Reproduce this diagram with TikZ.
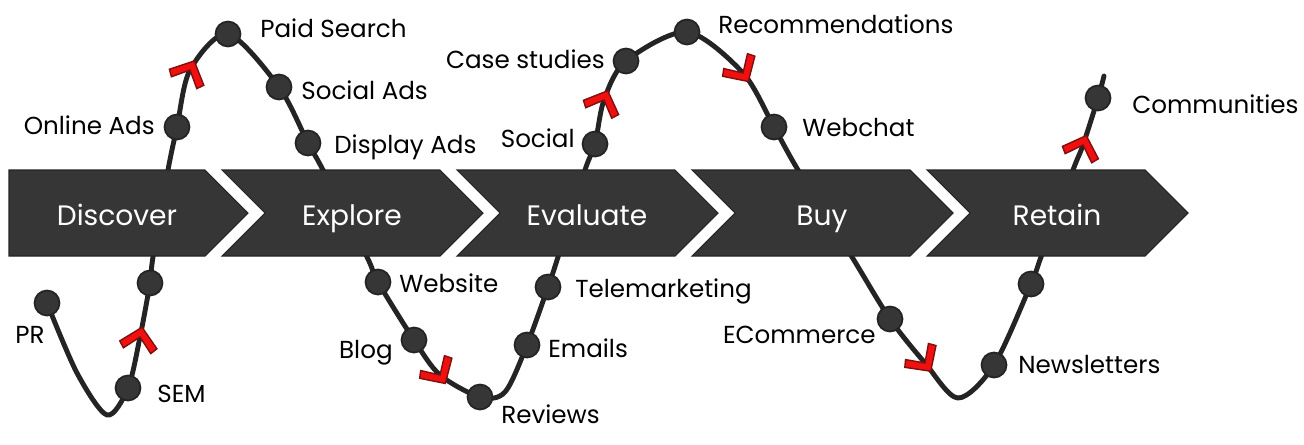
\documentclass[tikz,border=0pt]{standalone}
\usepackage{fontspec}
\setmainfont{Poppins}
\usetikzlibrary{backgrounds}
\definecolor{chevgray}{HTML}{363636}
\definecolor{wavegray}{HTML}{242424}
\definecolor{markred}{HTML}{F01010}
\definecolor{markedge}{HTML}{801010}
\tikzset{
    touchdot/.style={circle,fill=chevgray,draw=wavegray,line width=1pt,minimum size=0.5cm,inner sep=0pt},
    touchlbl/.style={inner sep=0pt,font=\fontsize{14}{16}\selectfont},
    stagetxt/.style={inner sep=0pt,anchor=base,text=white,font=\fontsize{16}{18}\selectfont},
    waveline/.style={draw=wavegray,line width=2.8pt,line cap=round,line join=round},
    pics/redmark/.style={code={\draw[markedge,fill=markred,line width=0.8pt,line join=miter] (10,0) -- (-8,19) -- (-14,14) -- (0,0) -- (-14,-14) -- (-8,-19) -- cycle;}}
}
\begin{document}
\begin{tikzpicture}[x=0.02cm,y=-0.02cm]
    \useasboundingbox (0,0) rectangle (1304,444);
    \node[touchdot] (pr) at (47,303) {};
    \node[touchdot] (sem) at (128,388) {};
    \node[touchdot] (dsc) at (150,283) {};
    \node[touchdot] (onl) at (177,127) {};
    \node[touchdot] (paid) at (228,34) {};
    \node[touchdot] (soca) at (279,87) {};
    \node[touchdot] (disp) at (308,143) {};
    \node[touchdot] (web) at (378,282) {};
    \node[touchdot] (blog) at (414,340) {};
    \node[touchdot] (rev) at (480,397) {};
    \node[touchdot] (ema) at (527,345) {};
    \node[touchdot] (tele) at (548,287) {};
    \node[touchdot] (soc) at (595,144) {};
    \node[touchdot] (cases) at (626,61) {};
    \node[touchdot] (reco) at (687,32) {};
    \node[touchdot] (chat) at (774,127) {};
    \node[touchdot] (ecom) at (890,319) {};
    \node[touchdot] (news) at (994,365) {};
    \node[touchdot] (ret) at (1031,284) {};
    \node[touchdot] (comm) at (1098,98) {};
    \node[touchlbl,anchor=base west] (prlbl) at (15,343) {PR};
    \node[touchlbl,anchor=base west] (semlbl) at (157,402) {SEM};
    \node[touchlbl,anchor=base east] (onllbl) at (155,134) {Online Ads};
    \node[touchlbl,anchor=base west] (paidlbl) at (260,37) {Paid Search};
    \node[touchlbl,anchor=base west] (socalbl) at (301,99) {Social Ads};
    \node[touchlbl,anchor=base west] (displbl) at (334,153) {Display Ads};
    \node[touchlbl,anchor=base west] (weblbl) at (399,292) {Website};
    \node[touchlbl,anchor=base east] (bloglbl) at (393,358) {Blog};
    \node[touchlbl,anchor=base west] (revlbl) at (501,423) {Reviews};
    \node[touchlbl,anchor=base west] (emalbl) at (548,357) {Emails};
    \node[touchlbl,anchor=base west] (telelbl) at (575,297) {Telemarketing};
    \node[touchlbl,anchor=base east] (soclbl) at (575,147) {Social};
    \node[touchlbl,anchor=base east] (caseslbl) at (605,68) {Case studies};
    \node[touchlbl,anchor=base west] (recolbl) at (718,33) {Recommendations};
    \node[touchlbl,anchor=base west] (chatlbl) at (802,136) {Webchat};
    \node[touchlbl,anchor=base east] (ecomlbl) at (876,343) {ECommerce};
    \node[touchlbl,anchor=base west] (newslbl) at (1018,373) {Newsletters};
    \node[touchlbl,anchor=base west] (commlbl) at (1132,113) {Communities};
    \coordinate (a1) at (77,373);
    \coordinate (b1) at (107,415);
    \coordinate (m1) at (140,337);
    \coordinate (c1) at (153,257);
    \coordinate (c2) at (168,170);
    \coordinate (m2) at (190,70);
    \coordinate (c3) at (323,170);
    \coordinate (c4) at (367,257);
    \coordinate (m3) at (440,375);
    \coordinate (b2) at (505,392);
    \coordinate (c5) at (558,257);
    \coordinate (c6) at (585,170);
    \coordinate (m4) at (604,100);
    \coordinate (m5) at (743,73);
    \coordinate (c7) at (798,170);
    \coordinate (c8) at (852,257);
    \coordinate (m6) at (925,363);
    \coordinate (b3) at (958,398);
    \coordinate (c9) at (1041,257);
    \coordinate (c10) at (1073,170);
    \coordinate (m7) at (1083,145);
    \coordinate (e1) at (1104,76);
    \begin{pgfonlayer}{background}
        \draw[waveline] plot[smooth,tension=0.5] coordinates {(pr.center) (a1) (b1) (sem.center) (m1) (dsc.center) (c1) (c2) (onl.center) (m2) (paid.center) (soca.center) (disp.center) (c3) (c4) (web.center) (blog.center) (m3) (rev.center) (b2) (ema.center) (tele.center) (c5) (c6) (soc.center) (m4) (cases.center) (reco.center) (m5) (chat.center) (c7) (c8) (ecom.center) (m6) (b3) (news.center) (ret.center) (c9) (c10) (m7) (comm.center) (e1)};
        \filldraw[chevgray,draw=wavegray,line width=0.6pt] (9,170) -- (205,170) -- (248,213) -- (205,256) -- (9,256) -- cycle;
        \foreach \i in {1,...,4}
            \filldraw[chevgray,draw=wavegray,line width=0.6pt,shift={(235*\i,0)}] (-13,170) -- (205,170) -- (248,213) -- (205,256) -- (-13,256) -- (30,213) -- cycle;
    \end{pgfonlayer}
    \foreach \x/\t in {117/Discover,352/Explore,587/Evaluate,822/Buy,1057/Retain}
        \node[stagetxt] (\t) at (\x,225) {\t};
    \pic[rotate=78] at (m1) {redmark};
    \pic[rotate=65] at (m2) {redmark};
    \pic[rotate=-58] at (m3) {redmark};
    \pic[rotate=68] at (m4) {redmark};
    \pic[rotate=-58] at (m5) {redmark};
    \pic[rotate=-55] at (m6) {redmark};
    \pic[rotate=71] at (m7) {redmark};
\end{tikzpicture}
\end{document}
